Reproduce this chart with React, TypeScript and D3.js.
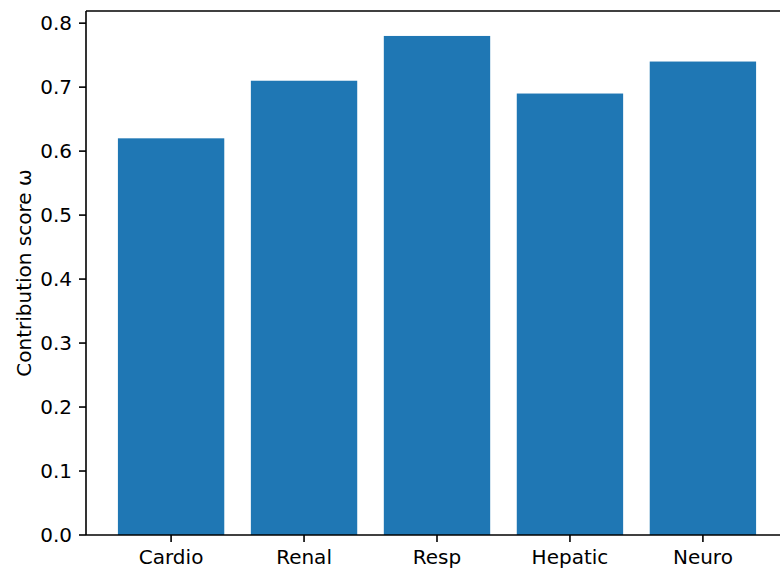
import { useEffect, useRef } from "react";
import * as d3 from "d3";

const categories = ["Cardio", "Renal", "Resp", "Hepatic", "Neuro"];
const scores = [0.62, 0.71, 0.78, 0.69, 0.74];
const yTicks = [0, 0.1, 0.2, 0.3, 0.4, 0.5, 0.6, 0.7, 0.8];

export default function App() {
  const ref = useRef<SVGSVGElement>(null);
  const width = 780;
  const height = 571;
  const left = 86;
  const top = 11;
  const bottom = 535;
  const right = 788; // axes runs past the cropped edge

  useEffect(() => {
    if (!ref.current) return;
    const svg = d3.select(ref.current);
    svg.selectAll("*").remove();

    const font = "DejaVu Sans, sans-serif";
    const n = categories.length;

    // matplotlib-like: bar width 0.8, 5% margins
    const x = d3.scaleLinear().domain([-0.64, n - 1 + 0.64]).range([left, right]);
    const y = d3.scaleLinear().domain([0, 0.819]).range([bottom, top]);

    // bars
    svg.append("g")
      .selectAll("rect")
      .data(scores)
      .enter()
      .append("rect")
      .attr("x", (d, i) => x(i - 0.4))
      .attr("width", x(0.4) - x(-0.4))
      .attr("y", d => y(d))
      .attr("height", d => y(0) - y(d))
      .attr("fill", "#1f77b4");

    // spines
    const spines = svg.append("g").attr("stroke", "black").attr("stroke-width", 1.6).attr("fill", "none");
    spines.append("line").attr("x1", left).attr("x2", left).attr("y1", top).attr("y2", bottom);
    spines.append("line").attr("x1", left).attr("x2", right).attr("y1", bottom).attr("y2", bottom);
    spines.append("line").attr("x1", left).attr("x2", right).attr("y1", top).attr("y2", top);
    spines.append("line").attr("x1", right).attr("x2", right).attr("y1", top).attr("y2", bottom);

    // y ticks
    const yt = svg.append("g");
    yt.selectAll("line")
      .data(yTicks)
      .enter()
      .append("line")
      .attr("x1", left - 7)
      .attr("x2", left)
      .attr("y1", d => y(d))
      .attr("y2", d => y(d))
      .attr("stroke", "black")
      .attr("stroke-width", 1.6);
    yt.selectAll("text")
      .data(yTicks)
      .enter()
      .append("text")
      .attr("x", left - 14)
      .attr("y", d => y(d))
      .attr("dy", "0.36em")
      .attr("text-anchor", "end")
      .style("font-family", font)
      .style("font-size", "20px")
      .attr("fill", "black")
      .text(d => d.toFixed(1));

    // x ticks
    const xt = svg.append("g");
    xt.selectAll("line")
      .data(categories)
      .enter()
      .append("line")
      .attr("x1", (d, i) => x(i))
      .attr("x2", (d, i) => x(i))
      .attr("y1", bottom)
      .attr("y2", bottom + 7)
      .attr("stroke", "black")
      .attr("stroke-width", 1.6);
    xt.selectAll("text")
      .data(categories)
      .enter()
      .append("text")
      .attr("x", (d, i) => x(i))
      .attr("y", bottom + 29)
      .attr("text-anchor", "middle")
      .style("font-family", font)
      .style("font-size", "20px")
      .attr("fill", "black")
      .text(d => d);

    // y label
    svg.append("text")
      .attr("transform", `translate(31, ${(top + bottom) / 2}) rotate(-90)`)
      .attr("text-anchor", "middle")
      .style("font-family", font)
      .style("font-size", "20px")
      .attr("fill", "black")
      .text("Contribution score ω");
  }, []);

  return (
    <svg
      ref={ref}
      width={width}
      height={height}
      viewBox={`0 0 ${width} ${height}`}
      style={{ position: "absolute", left: 0, top: 0, background: "white" }}
    />
  );
}
